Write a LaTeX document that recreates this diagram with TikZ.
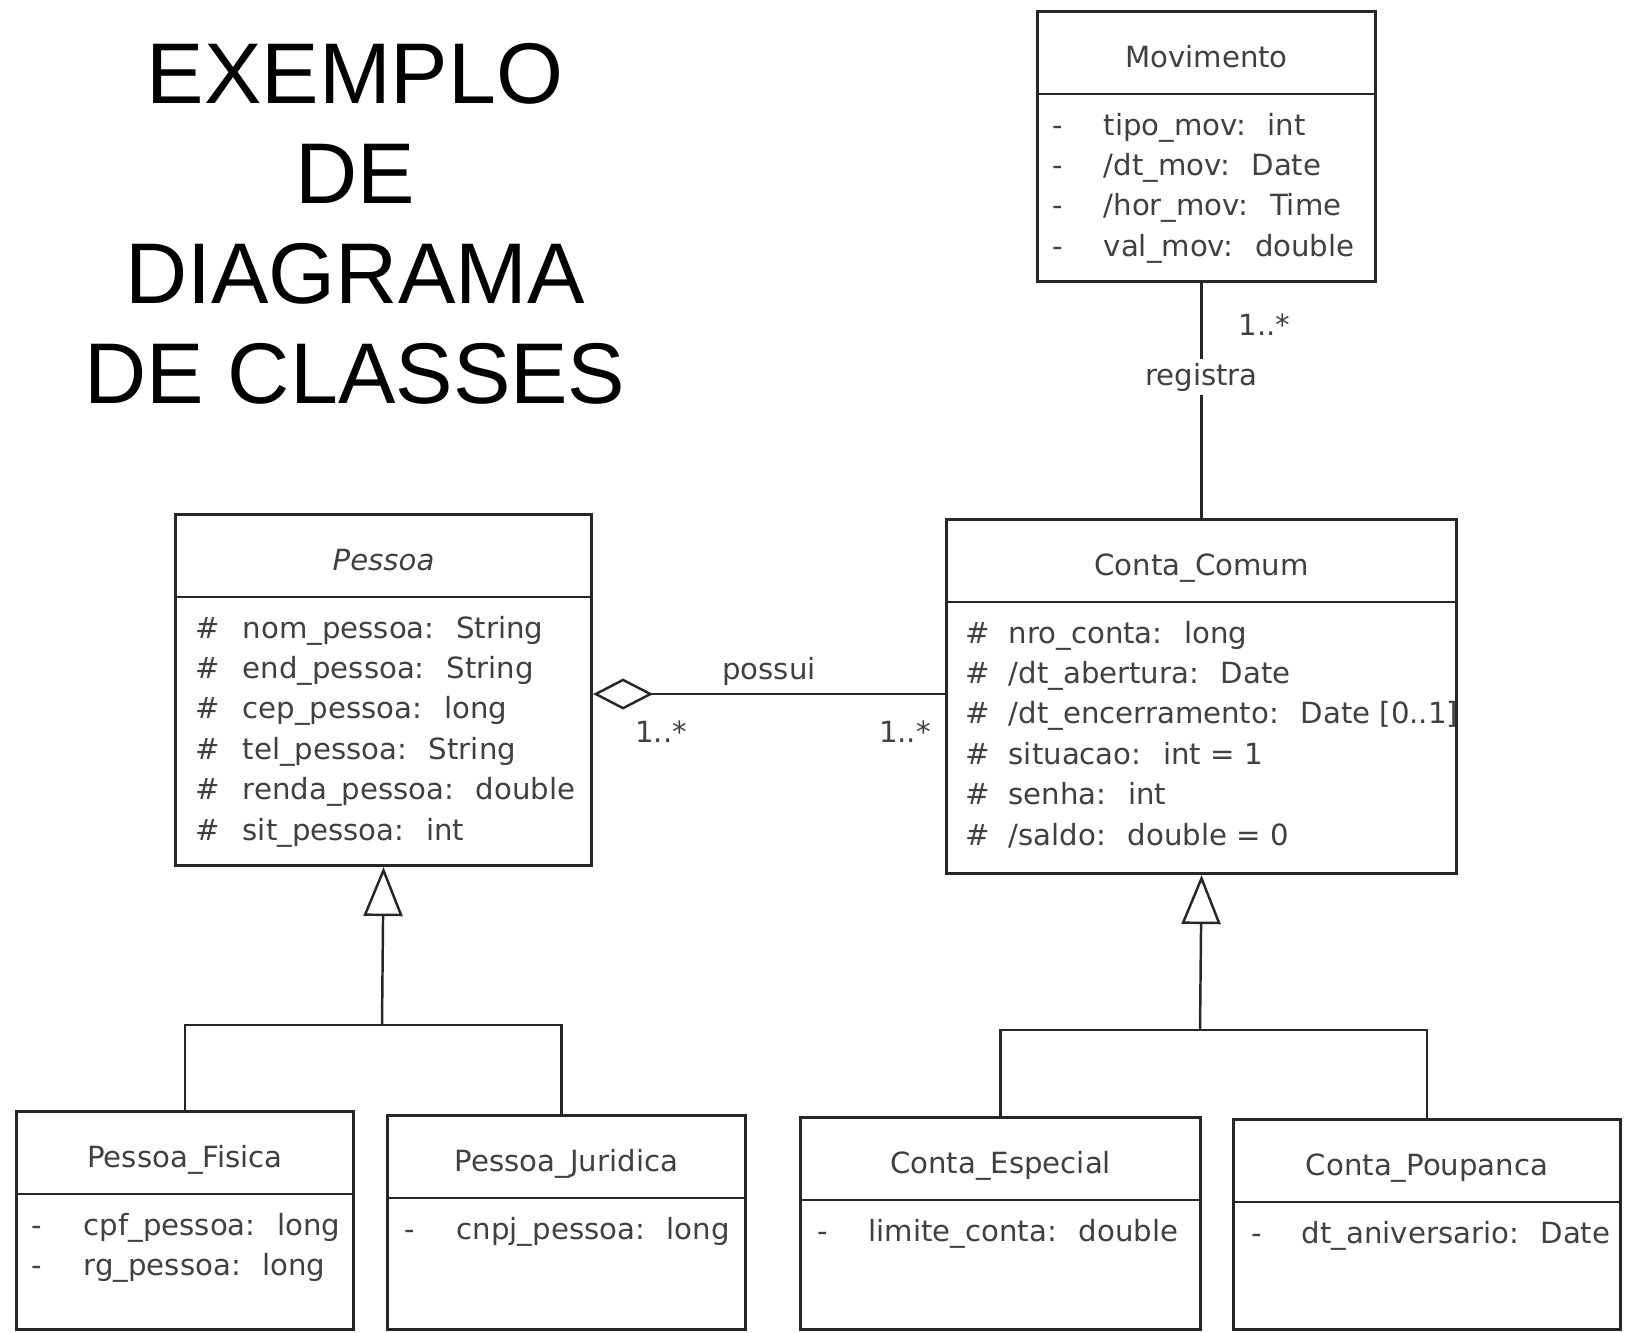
\documentclass[tikz,border=0pt]{standalone}
\usepackage{fontspec}
\newfontfamily\umlfont{DejaVu Sans}
\newfontfamily\headfont{Liberation Sans}
\usetikzlibrary{positioning,arrows.meta}

\begin{document}
\begin{tikzpicture}[
        x=0.01cm, y=-0.01cm,
        classbox/.style={draw=black!85, line width=0.8pt, rectangle, inner sep=0pt, anchor=north west},
        classname/.style={font=\umlfont\fontsize{8.3}{10}\selectfont, text=black!75, anchor=base},
        attrs/.style={font=\umlfont\fontsize{8.3}{11.5}\selectfont, text=black!75, anchor=base west, inner sep=0pt},
        mult/.style={font=\umlfont\fontsize{8.3}{10}\selectfont, text=black!75, inner sep=1pt},
        link/.style={draw=black!85, line width=0.7pt},
        gen/.style={link, -{Triangle[open, length=0.49cm, width=0.39cm]}},
        aggr/.style={link, {Diamond[open, length=0.6cm, width=0.31cm]}-}
    ]
    \useasboundingbox (0,0) rectangle (1625,1332);

    % titulo
    \node (titulo) at (355,224) [align=center, font=\headfont\fontsize{24.5}{28.45}\selectfont]
        {EXEMPLO\\DE\\DIAGRAMA\\DE CLASSES};

    % Movimento
    \node[classbox, minimum width=3.38cm, minimum height=2.70cm] (movimento) at (1036,10) {};
    \draw[link] ([yshift=-0.84cm]movimento.north west) -- ([yshift=-0.84cm]movimento.north east);
    \node[classname] (movimento-n) at ([yshift=-0.57cm]movimento.north) {Movimento};
    \node[attrs] (movimento-a) at ([xshift=0.16cm, yshift=-1.25cm]movimento.north west)
        {\begin{tabular}[t]{@{}p{0.51cm}@{}l@{}}
        - & tipo\_mov:~ int\\
        - & /dt\_mov:~ Date\\
        - & /hor\_mov:~ Time\\
        - & val\_mov:~ double
        \end{tabular}};

    % Pessoa
    \node[classbox, minimum width=4.16cm, minimum height=3.51cm] (pessoa) at (174,513) {};
    \draw[link] ([yshift=-0.84cm]pessoa.north west) -- ([yshift=-0.84cm]pessoa.north east);
    \node[classname] (pessoa-n) at ([yshift=-0.57cm]pessoa.north) {\textit{Pessoa}};
    \node[attrs] (pessoa-a) at ([xshift=0.21cm, yshift=-1.25cm]pessoa.north west)
        {\begin{tabular}[t]{@{}p{0.47cm}@{}l@{}}
        \# & nom\_pessoa:~ String\\
        \# & end\_pessoa:~ String\\
        \# & cep\_pessoa:~ long\\
        \# & tel\_pessoa:~ String\\
        \# & renda\_pessoa:~ double\\
        \# & sit\_pessoa:~ int
        \end{tabular}};

    % Conta_Comum
    \node[classbox, minimum width=5.10cm, minimum height=3.54cm] (comum) at (945,518) {};
    \draw[link] ([yshift=-0.84cm]comum.north west) -- ([yshift=-0.84cm]comum.north east);
    \node[classname] (comum-n) at ([yshift=-0.57cm]comum.north) {Conta\_Comum};
    \node[attrs] (comum-a) at ([xshift=0.20cm, yshift=-1.25cm]comum.north west)
        {\begin{tabular}[t]{@{}p{0.43cm}@{}l@{}}
        \# & nro\_conta:~ long\\
        \# & /dt\_abertura:~ Date\\
        \# & /dt\_encerramento:~ Date [0..1]\\
        \# & situacao:~ int = 1\\
        \# & senha:~ int\\
        \# & /saldo:~ double = 0
        \end{tabular}};

    % Pessoa_Fisica
    \node[classbox, minimum width=3.37cm, minimum height=2.18cm] (fisica) at (15,1110) {};
    \draw[link] ([yshift=-0.84cm]fisica.north west) -- ([yshift=-0.84cm]fisica.north east);
    \node[classname] (fisica-n) at ([yshift=-0.57cm]fisica.north) {Pessoa\_Fisica};
    \node[attrs] (fisica-a) at ([xshift=0.16cm, yshift=-1.25cm]fisica.north west)
        {\begin{tabular}[t]{@{}p{0.52cm}@{}l@{}}
        - & cpf\_pessoa:~ long\\
        - & rg\_pessoa:~ long
        \end{tabular}};

    % Pessoa_Juridica
    \node[classbox, minimum width=3.58cm, minimum height=2.14cm] (juridica) at (386,1114) {};
    \draw[link] ([yshift=-0.84cm]juridica.north west) -- ([yshift=-0.84cm]juridica.north east);
    \node[classname] (juridica-n) at ([yshift=-0.57cm]juridica.north) {Pessoa\_Juridica};
    \node[attrs] (juridica-a) at ([xshift=0.18cm, yshift=-1.25cm]juridica.north west)
        {\begin{tabular}[t]{@{}p{0.52cm}@{}l@{}}
        - & cnpj\_pessoa:~ long
        \end{tabular}};

    % Conta_Especial
    \node[classbox, minimum width=4.00cm, minimum height=2.12cm] (especial) at (799,1116) {};
    \draw[link] ([yshift=-0.84cm]especial.north west) -- ([yshift=-0.84cm]especial.north east);
    \node[classname] (especial-n) at ([yshift=-0.57cm]especial.north) {Conta\_Especial};
    \node[attrs] (especial-a) at ([xshift=0.18cm, yshift=-1.25cm]especial.north west)
        {\begin{tabular}[t]{@{}p{0.51cm}@{}l@{}}
        - & limite\_conta:~ double
        \end{tabular}};

    % Conta_Poupanca
    \node[classbox, minimum width=3.87cm, minimum height=2.10cm] (poupanca) at (1232,1118) {};
    \draw[link] ([yshift=-0.84cm]poupanca.north west) -- ([yshift=-0.84cm]poupanca.north east);
    \node[classname] (poupanca-n) at ([yshift=-0.57cm]poupanca.north) {Conta\_Poupanca};
    \node[attrs] (poupanca-a) at ([xshift=0.19cm, yshift=-1.25cm]poupanca.north west)
        {\begin{tabular}[t]{@{}p{0.50cm}@{}l@{}}
        - & dt\_aniversario:~ Date
        \end{tabular}};

    % associacoes
    \draw[link] (comum.north) -- (comum.north |- movimento.south)
        node[pos=0.6, mult, fill=white] (registra) {registra};
    \node[mult, below right=0.27cm and 0.28cm of movimento.south] (mult-mov) {1..*};

    \draw[aggr] ([yshift=-0.04cm]pessoa.east) -- ([yshift=-0.04cm]pessoa.east -| comum.west)
        node[midway, above, mult, inner sep=2pt] (possui) {possui};
    \node[mult, below right=0.27cm and 0.38cm of pessoa.east] (mult-pes) {1..*};
    \node[mult, below left=0.2cm and 0.1cm of comum.west] (mult-con) {1..*};

    % heranca
    \coordinate (forkP) at (382,1025);
    \draw[link] (fisica.north) |- (forkP) -| ([xshift=-0.05cm]juridica.north);
    \draw[gen] (forkP) -- (pessoa.south);

    \coordinate (forkC) at (1200,1030);
    \draw[link] (especial.north) |- (forkC) -| (poupanca.north);
    \draw[gen] (forkC) -- (comum.south);
\end{tikzpicture}
\end{document}
